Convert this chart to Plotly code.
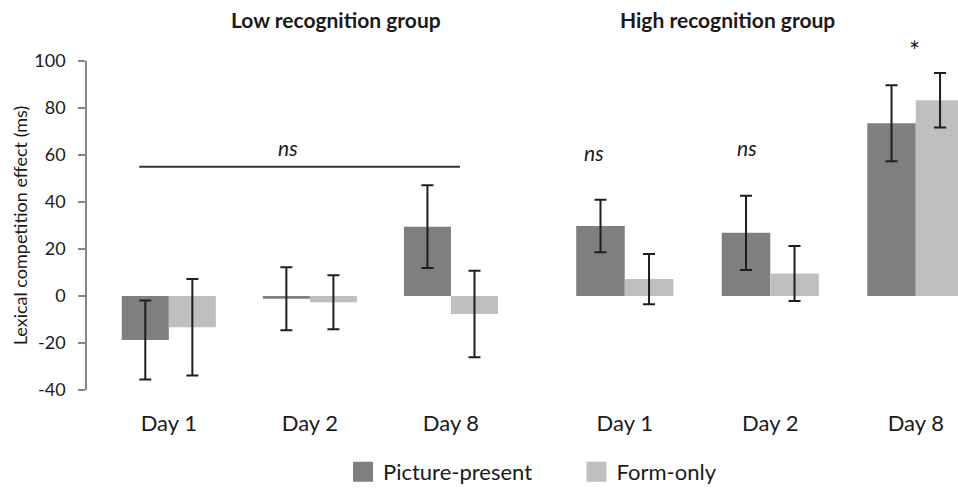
import plotly.graph_objects as go

# ---- data ----
days = ["Day 1", "Day 2", "Day 8"]
groups = ["Low recognition group", "High recognition group"]
series_names = ["Picture-present", "Form-only"]

low_picture = [-18.7, -1.2, 29.5]
low_picture_err = [16.8, 13.4, 17.6]
low_form = [-13.3, -2.7, -7.7]
low_form_err = [20.5, 11.5, 18.4]

high_picture = [29.8, 26.9, 73.5]
high_picture_err = [11.2, 15.8, 16.2]
high_form = [7.2, 9.6, 83.3]
high_form_err = [10.7, 11.7, 11.6]

y_ticks = [-40, -20, 0, 20, 40, 60, 80, 100]
y_tick_labels = ["-40", "-20", "0", "20", "40", "60", "80", "100"]

sig_low = ("ns", 63)          # over the bracket line
sig_low_line = 55
sig_high = ["ns", "ns", "*"]
sig_high_y = [61, 63, 107.5]

colors = ["#7f7f7f", "#bfbfbf"]
FONT = "Lato, Carlito, 'Liberation Sans', sans-serif"

fig = go.Figure()

err_style = dict(type="data", visible=True, color="#1e1e1e", thickness=2, width=6)

for xa, ya, vals in [
    ("x", "y", [(low_picture, low_picture_err), (low_form, low_form_err)]),
    ("x2", "y2", [(high_picture, high_picture_err), (high_form, high_form_err)]),
]:
    for i, (v, e) in enumerate(vals):
        fig.add_trace(go.Bar(
            x=days, y=v, name=series_names[i],
            marker=dict(color=colors[i], line=dict(width=0)),
            error_y=dict(array=e, **err_style),
            xaxis=xa, yaxis=ya, showlegend=False,
        ))

# legend-only traces with bigger square swatches
legend_pad = ["\u00a0" * 7, ""]
for i, n in enumerate(series_names):
    fig.add_trace(go.Scatter(
        x=[None], y=[None], mode="markers", name=n + legend_pad[i],
        marker=dict(symbol="square", size=16, color=colors[i],
                    line=dict(color=colors[i], width=4)),
        xaxis="x", yaxis="y", showlegend=True,
    ))

L, W, H, T, B = 87, 958, 489, 61, 99
PH = H - T - B
def px(p):
    return (p - L) / (W - L)
def py(p):
    return (H - B - p) / PH

xcommon = dict(showline=False, showgrid=False, zeroline=False, ticks="",
               tickfont=dict(size=22), ticklabelstandoff=18, automargin=False)

fig.update_layout(
    width=W, height=H,
    margin=dict(l=L, r=0, t=T, b=B, autoexpand=False),
    paper_bgcolor="white", plot_bgcolor="white",
    barmode="group", bargap=0.333, bargroupgap=0,
    font=dict(family=FONT, size=18, color="#1a1a1a"),
    xaxis=dict(domain=[0, px(521.5)], range=[-0.58, 2.5], **xcommon),
    xaxis2=dict(domain=[px(552), 1], range=[-0.5, 2.29], anchor="y2", **xcommon),
    yaxis=dict(range=[-40, 100], tickvals=y_ticks, ticktext=y_tick_labels,
               showgrid=False, zeroline=False, automargin=False,
               showline=True, linecolor="#868686", linewidth=1.5, ticks="outside",
               ticklen=7, tickcolor="#868686", tickwidth=1.5, tickfont=dict(size=18),
               ticklabelstandoff=9,
               title=dict(text="Lexical competition effect (ms)", font=dict(size=18),
                          standoff=2)),
    yaxis2=dict(range=[-40, 100], matches="y", anchor="x2", visible=False),
    legend=dict(orientation="h", x=px(343), xanchor="left", y=py(472),
                yanchor="middle", font=dict(size=22), itemwidth=30,
                bgcolor="rgba(0,0,0,0)"),
    showlegend=True,
)

# group titles
for g, cx in zip(groups, [336, 727]):
    fig.add_annotation(text="<b>" + g + "</b>", xref="paper", yref="paper",
                       x=px(cx), y=py(19), showarrow=False,
                       font=dict(size=21), xanchor="center", yanchor="middle")

# significance markers
fig.add_shape(type="line", xref="x", yref="y", x0=-0.21, x1=2.064,
              y0=sig_low_line, y1=sig_low_line, line=dict(color="#333333", width=2))
fig.add_annotation(text="<i>" + sig_low[0] + "</i>", xref="x", yref="y",
                   x=1, y=sig_low[1], xshift=-22, showarrow=False, font=dict(size=21))
shifts = [-31, -23, -1]
for i, (t, yv) in enumerate(zip(sig_high, sig_high_y)):
    if t == "ns":
        fig.add_annotation(text="<i>" + t + "</i>", xref="x2", yref="y2", x=days[i],
                           y=yv, xshift=shifts[i], showarrow=False, font=dict(size=21))
    else:
        # above the axis range: place with paper y from the same value
        fig.add_annotation(text=t, xref="x2", yref="paper", x=days[i],
                           y=(yv + 40) / 140, xshift=shifts[i], yshift=10,
                           showarrow=False, font=dict(size=26))

fig.write_html("out.html",
               config={"displayModeBar": False},
               post_script="document.body.style.margin='0';"
                           "document.body.style.overflow='hidden';")
